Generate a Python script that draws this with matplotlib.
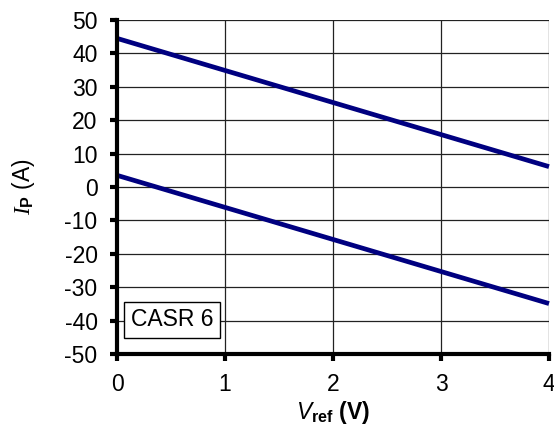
import matplotlib
matplotlib.use("Agg")
import matplotlib.pyplot as plt
import numpy as np

plt.rcParams['font.family'] = ['Liberation Sans', 'DejaVu Sans']
plt.rcParams['axes.unicode_minus'] = False
plt.rcParams['mathtext.fontset'] = 'custom'
plt.rcParams['mathtext.rm'] = 'Liberation Sans'
plt.rcParams['mathtext.it'] = 'Liberation Sans:italic'
plt.rcParams['mathtext.bf'] = 'Liberation Sans:bold'
plt.rcParams['mathtext.cal'] = 'Liberation Serif:italic'

# Data
v_ref = [0, 1, 2, 3, 4]
ip_upper = [44.5, 34.9, 25.3, 15.7, 6.1]
ip_lower = [3.5, -6.1, -15.7, -25.3, -34.9]
x_ticks = [0, 1, 2, 3, 4]
y_ticks = [-50, -40, -30, -20, -10, 0, 10, 20, 30, 40, 50]
label_text = "CASR 6"

FS = 16.5

fig = plt.figure(figsize=(5.54, 4.30), dpi=100)
ax = fig.add_axes([117/554, 1-354/430, (549-117)/554, (354-20)/430])

ax.plot(v_ref, ip_upper, color='#000080', lw=3.4, solid_capstyle='butt', zorder=3, clip_on=False)
ax.plot(v_ref, ip_lower, color='#000080', lw=3.4, solid_capstyle='butt', zorder=3, clip_on=False)

ax.set_xlim(0, 4)
ax.set_ylim(-50, 50)
ax.set_xticks(x_ticks)
ax.set_yticks(y_ticks)
ax.grid(True, color='#222222', lw=0.9)
ax.set_axisbelow(True)

for s in ['top', 'right']:
    ax.spines[s].set_visible(False)
for s in ['left', 'bottom']:
    ax.spines[s].set_linewidth(3.0)
    ax.spines[s].set_zorder(4)

ax.tick_params(axis='both', direction='out', length=5, width=3.0, labelsize=FS)
ax.tick_params(axis='y', pad=9)
ax.tick_params(axis='x', pad=9)

ax.set_xlabel(r'$V_{\mathbf{ref}}$ (V)', fontsize=FS, fontweight='bold', labelpad=2)
ax.set_ylabel(r'$\mathcal{I}_{\mathbf{P}}$ (A)', fontsize=FS, labelpad=20)

ax.text(0.509, -39.7, label_text, fontsize=FS, ha='center', va='center',
        bbox=dict(boxstyle='square,pad=0.28', facecolor='white', edgecolor='black', lw=1.0),
        zorder=5)

fig.savefig('out.png', dpi=100)
